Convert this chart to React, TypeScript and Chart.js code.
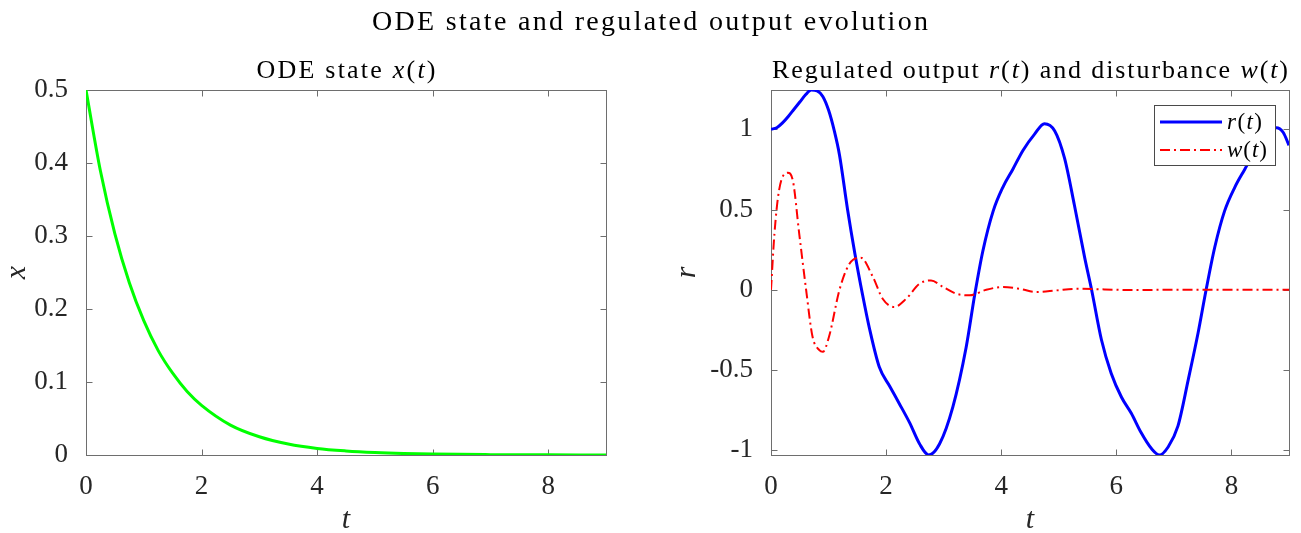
import React, { useEffect, useRef } from "react";
import { Chart, registerables } from "chart.js";
Chart.register(...registerables);

const W = 1301;
const H = 533;
const SERIF = '"Liberation Serif"';

// ---- data ----
const xTicks = [0, 2, 4, 6, 8];
const leftYTicks = [0, 0.1, 0.2, 0.3, 0.4, 0.5];
const rightYTicks = [-1, -0.5, 0, 0.5, 1];

const tState = [0, 0.25, 0.5, 0.75, 1, 1.25, 1.5, 1.75, 2, 2.5, 3, 3.5, 4, 4.5, 5, 5.5, 6, 7, 8, 9];
const xState = [0.5, 0.389, 0.303, 0.236, 0.184, 0.143, 0.112, 0.087, 0.068, 0.041, 0.025, 0.015, 0.009, 0.0056, 0.0034, 0.002, 0.0012, 0.0005, 0.0002, 0.0001];

const tOut = [0, 0.1, 0.2, 0.3, 0.4, 0.5, 0.6, 0.7, 0.8, 0.9, 1.0, 1.1, 1.19, 1.33, 1.46, 1.59, 1.71, 1.88, 2.06, 2.23, 2.41, 2.58, 2.74, 2.93, 3.16, 3.39, 3.54, 3.68, 3.86, 4.03, 4.2, 4.38, 4.58, 4.75, 4.93, 5.1, 5.27, 5.45, 5.57, 5.74, 5.91, 6.09, 6.26, 6.43, 6.61, 6.75, 6.9, 7.07, 7.25, 7.42, 7.56, 7.71, 7.88, 8.06, 8.23, 8.41, 8.58, 8.78, 8.9, 9.0];
const rOut = [1.0, 1.01, 1.04, 1.08, 1.125, 1.17, 1.215, 1.245, 1.24, 1.205, 1.12, 0.99, 0.84, 0.5, 0.22, -0.03, -0.24, -0.48, -0.6, -0.71, -0.83, -0.96, -1.03, -0.96, -0.73, -0.36, -0.03, 0.24, 0.49, 0.64, 0.75, 0.87, 0.97, 1.035, 0.99, 0.82, 0.53, 0.2, 0, -0.31, -0.52, -0.67, -0.77, -0.89, -0.99, -1.03, -0.98, -0.85, -0.56, -0.27, 0, 0.265, 0.49, 0.64, 0.75, 0.865, 0.96, 1.01, 0.98, 0.9];

const tDist = [0, 0.06, 0.14, 0.29, 0.38, 0.49, 0.61, 0.72, 0.84, 0.9, 1.01, 1.19, 1.36, 1.56, 1.77, 1.94, 2.14, 2.35, 2.58, 2.78, 2.99, 3.22, 3.45, 3.74, 4.03, 4.32, 4.61, 4.96, 5.3, 5.8, 6.3, 7.0, 8.0, 9.0];
const wDist = [0, 0.35, 0.62, 0.73, 0.68, 0.35, 0, -0.29, -0.377, -0.387, -0.29, 0, 0.16, 0.2, 0.08, -0.056, -0.108, -0.056, 0.037, 0.058, 0.017, -0.025, -0.035, 0, 0.017, 0.006, -0.014, -0.004, 0.006, 0.002, -0.002, 0, 0, 0];

// ---- text helpers ----
type Seg = { s: string; it?: boolean };

function fontOf(size: number, it?: boolean) {
  return `${it ? "italic " : ""}${size}px ${SERIF}`;
}

function drawRich(
  ctx: CanvasRenderingContext2D,
  segs: Seg[],
  cx: number,
  y: number,
  size: number,
  target?: number,
  align: "center" | "left" = "center"
) {
  const chars: { c: string; it?: boolean; w: number }[] = [];
  for (const sg of segs) {
    ctx.font = fontOf(size, sg.it);
    for (const c of sg.s) chars.push({ c, it: sg.it, w: ctx.measureText(c).width });
  }
  const natural = chars.reduce((a, b) => a + b.w, 0);
  const ls = target && chars.length > 1 ? (target - natural) / (chars.length - 1) : 0;
  const total = natural + ls * (chars.length - 1);
  let x = align === "center" ? cx - total / 2 : cx;
  ctx.textAlign = "left";
  ctx.textBaseline = "alphabetic";
  for (const ch of chars) {
    ctx.font = fontOf(size, ch.it);
    ctx.fillText(ch.c, x, y);
    x += ch.w + ls;
  }
}

const AXIS_COLOR = "#6e6e6e";
const TEXT_COLOR = "#262626";

function boxPlugin(yTicks: number[]) {
  return {
    id: "matlabBox",
    beforeDatasetsDraw(chart: any) {
      const { ctx, chartArea } = chart;
      const { left, right, top, bottom } = chartArea;
      const xs = chart.scales.x;
      const ys = chart.scales.y;
      ctx.save();
      ctx.strokeStyle = AXIS_COLOR;
      ctx.lineWidth = 1;
      const L = Math.round(left) + 0.5;
      const R = Math.round(right) + 0.5;
      const T = Math.round(top) + 0.5;
      const B = Math.round(bottom) + 0.5;
      ctx.strokeRect(L, T, R - L, B - T);
      ctx.beginPath();
      const tl = 6;
      for (const v of xTicks) {
        const px = Math.round(xs.getPixelForValue(v)) + 0.5;
        ctx.moveTo(px, B);
        ctx.lineTo(px, B - tl);
        ctx.moveTo(px, T);
        ctx.lineTo(px, T + tl);
      }
      for (const v of yTicks) {
        const py = Math.round(ys.getPixelForValue(v)) + 0.5;
        ctx.moveTo(L, py);
        ctx.lineTo(L + tl, py);
        ctx.moveTo(R, py);
        ctx.lineTo(R - tl, py);
      }
      ctx.stroke();
      ctx.restore();
    },
  };
}

function textPlugin(opts: {
  title: Seg[];
  titleWidth: number;
  yLabel: string;
  yLabelX: number;
  mainTitle?: boolean;
  legend?: boolean;
}) {
  return {
    id: "matlabText",
    afterDraw(chart: any) {
      const { ctx, chartArea } = chart;
      const { left, right, top, bottom } = chartArea;
      const cx = (left + right) / 2;
      ctx.save();
      ctx.fillStyle = "#000";
      if (opts.mainTitle) {
        drawRich(ctx, [{ s: "ODE state and regulated output evolution" }], 650, 30, 28, 556);
      }
      drawRich(ctx, opts.title, cx, 78, 26, opts.titleWidth);
      ctx.fillStyle = TEXT_COLOR;
      drawRich(ctx, [{ s: "t", it: true }], cx, 528, 30);
      ctx.save();
      ctx.translate(opts.yLabelX, (top + bottom) / 2);
      ctx.rotate(-Math.PI / 2);
      drawRich(ctx, [{ s: opts.yLabel, it: true }], 0, 7, 30);
      ctx.restore();
      ctx.restore();
    },
    afterDatasetsDraw(chart: any) {
      if (!opts.legend) return;
      const { ctx } = chart;
      ctx.save();
      const bx = 1154.5, by = 105.5, bw = 121, bh = 60;
      ctx.fillStyle = "#ffffff";
      ctx.fillRect(bx, by, bw, bh);
      ctx.strokeStyle = "#4a4a4a";
      ctx.lineWidth = 1;
      ctx.strokeRect(bx, by, bw, bh);
      ctx.strokeStyle = "#0000ff";
      ctx.lineWidth = 3;
      ctx.beginPath();
      ctx.moveTo(1160, 122);
      ctx.lineTo(1222, 122);
      ctx.stroke();
      ctx.strokeStyle = "#ff0000";
      ctx.lineWidth = 2;
      ctx.setLineDash([10, 4, 2, 4]);
      ctx.beginPath();
      ctx.moveTo(1160, 150);
      ctx.lineTo(1222, 150);
      ctx.stroke();
      ctx.setLineDash([]);
      ctx.fillStyle = "#000";
      drawRich(ctx, [{ s: "r", it: true }, { s: "(" }, { s: "t", it: true }, { s: ")" }], 1227, 129, 23, 35, "left");
      drawRich(ctx, [{ s: "w", it: true }, { s: "(" }, { s: "t", it: true }, { s: ")" }], 1227, 157, 23, 40, "left");
      ctx.restore();
    },
  };
}

function makeScales(yMin: number, yMax: number, yTicks: number[], yWidth: number) {
  return {
    x: {
      type: "linear" as const,
      min: 0,
      max: 9,
      bounds: "data" as const,
      grid: { display: false },
      border: { display: false },
      afterBuildTicks: (s: any) => {
        s.ticks = xTicks.map((v) => ({ value: v }));
      },
      afterFit: (s: any) => {
        s.height = H - 455;
      },
      ticks: {
        padding: 8,
        color: TEXT_COLOR,
        font: { family: SERIF, size: 27 },
        maxRotation: 0,
        callback: (v: any) => String(v),
      },
    },
    y: {
      type: "linear" as const,
      min: yMin,
      max: yMax,
      bounds: "data" as const,
      grid: { display: false },
      border: { display: false },
      afterBuildTicks: (s: any) => {
        s.ticks = yTicks.map((v) => ({ value: v }));
      },
      afterFit: (s: any) => {
        s.width = yWidth;
      },
      ticks: {
        padding: 10,
        color: TEXT_COLOR,
        font: { family: SERIF, size: 27 },
        callback: (v: any) => String(v),
      },
    },
  };
}

export default function App() {
  const leftRef = useRef<HTMLCanvasElement | null>(null);
  const rightRef = useRef<HTMLCanvasElement | null>(null);

  useEffect(() => {
    const left = new Chart(leftRef.current as HTMLCanvasElement, {
      type: "line",
      data: {
        datasets: [
          {
            label: "x(t)",
            data: tState.map((t, i) => ({ x: t, y: xState[i] })),
            borderColor: "#00ff00",
            borderWidth: 3,
            pointRadius: 0,
            fill: false,
            cubicInterpolationMode: "monotone",
          },
        ],
      },
      options: {
        responsive: false,
        animation: false,
        events: [],
        layout: { autoPadding: false, padding: { left: 0, top: 90, right: W - 606, bottom: 0 } },
        plugins: { legend: { display: false }, tooltip: { enabled: false }, title: { display: false } },
        scales: makeScales(0, 0.5, leftYTicks, 86) as any,
      },
      plugins: [
        boxPlugin(leftYTicks),
        textPlugin({
          title: [{ s: "ODE state " }, { s: "x", it: true }, { s: "(" }, { s: "t", it: true }, { s: ")" }],
          titleWidth: 179,
          yLabel: "x",
          yLabelX: 18,
          mainTitle: true,
        }),
      ],
    });

    const right = new Chart(rightRef.current as HTMLCanvasElement, {
      type: "line",
      data: {
        datasets: [
          {
            label: "r(t)",
            data: tOut.map((t, i) => ({ x: t, y: rOut[i] })),
            borderColor: "#0000ff",
            borderWidth: 3,
            pointRadius: 0,
            fill: false,
            cubicInterpolationMode: "monotone",
            order: 1,
          },
          {
            label: "w(t)",
            data: tDist.map((t, i) => ({ x: t, y: wDist[i] })),
            borderColor: "#ff0000",
            borderWidth: 2,
            borderDash: [10, 4, 2, 4],
            pointRadius: 0,
            fill: false,
            cubicInterpolationMode: "monotone",
            order: 0,
          },
        ],
      },
      options: {
        responsive: false,
        animation: false,
        events: [],
        layout: { autoPadding: false, padding: { left: 0, top: 90, right: W - 1289, bottom: 0 } },
        plugins: { legend: { display: false }, tooltip: { enabled: false }, title: { display: false } },
        scales: makeScales(-1.03, 1.245, rightYTicks, 771) as any,
      },
      plugins: [
        boxPlugin(rightYTicks),
        textPlugin({
          title: [
            { s: "Regulated output " },
            { s: "r", it: true },
            { s: "(" },
            { s: "t", it: true },
            { s: ") and disturbance " },
            { s: "w", it: true },
            { s: "(" },
            { s: "t", it: true },
            { s: ")" },
          ],
          titleWidth: 516,
          yLabel: "r",
          yLabelX: 688,
          legend: true,
        }),
      ],
    });

    return () => {
      left.destroy();
      right.destroy();
    };
  }, []);

  const cstyle: React.CSSProperties = { position: "absolute", left: 0, top: 0, width: W, height: H };
  return (
    <div style={{ position: "absolute", left: 0, top: 0, width: W, height: H, background: "#fff" }}>
      <canvas ref={leftRef} width={W} height={H} style={cstyle} />
      <canvas ref={rightRef} width={W} height={H} style={cstyle} />
    </div>
  );
}
